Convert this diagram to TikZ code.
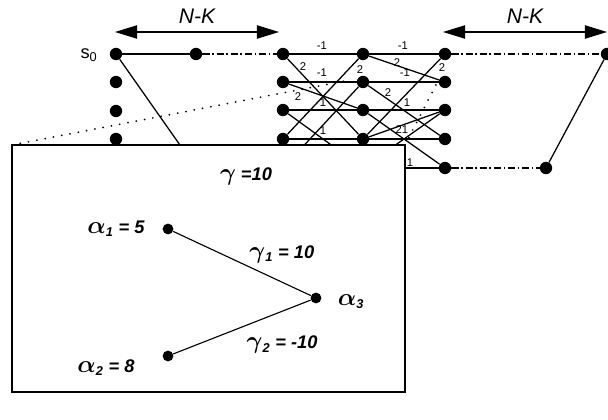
\documentclass[tikz,border=0pt]{standalone}
\usepackage{fontspec}
\usepackage{amsmath}
\setmainfont{Liberation Sans}
\usetikzlibrary{arrows.meta, positioning, calc, fit}
\newcommand{\grAlpha}{{\fontsize{17}{17}\selectfont$\boldsymbol{\alpha}$}}
\newcommand{\grGamma}{{\fontsize{16}{16}\selectfont$\boldsymbol{\gamma}$}}

\begin{document}
\begin{tikzpicture}[x=0.025cm, y=-0.025cm,
  dot/.style={circle, fill=black, inner sep=0pt, minimum size=0.31cm},
  branch/.style={draw, line width=0.9pt},
  dashdot/.style={draw, line width=0.8pt, dash pattern=on 5pt off 2pt on 1pt off 2pt},
  zoomline/.style={draw, line width=1.4pt, line cap=round, dash pattern=on 0pt off 6pt},
  blab/.style={font=\fontsize{8}{8}\selectfont, inner sep=0pt},
  biglab/.style={font=\fontsize{13}{13}\selectfont\bfseries\itshape, inner sep=0pt},
  span/.style={{Triangle[length=0.55cm, width=0.33cm]}-{Triangle[length=0.55cm, width=0.33cm]}, line width=1pt}
]
\useasboundingbox (0,0) rectangle (608,420);

% first column and s0
\foreach \r/\y in {1/54,2/82,3/111,4/139}
  \node[dot] (l\r) at (116,\y) {};
\node[font=\fontsize{13}{13}\selectfont] (s0) at (89,55) {s\textsubscript{0}};
\node[dot] (m) at (196,54) {};
\coordinate (lcut) at (194,165);
\draw[branch] (l1) -- (m);
\draw[dashdot] (m) -- (283,54);
\draw[branch] (l1) -- (lcut);

% trellis
\foreach \c/\x in {1/283,2/363,3/445}
  \foreach \r/\y in {1/54,2/82,3/110,4/139,5/168}
    \node[dot] (t\c\r) at (\x,\y) {};
\foreach \r in {1,...,5} {
  \draw[branch] (t1\r) -- (t2\r);
  \draw[branch] (t2\r) -- (t3\r);
}
\foreach \a/\b in {1/4,2/3,3/5,4/1,5/2}
  \draw[branch] (t1\a) -- (t2\b);
\foreach \a/\b in {1/2,2/4,3/5,4/1,4/3,5/3}
  \draw[branch] (t2\a) -- (t3\b);

% branch labels
\foreach \p/\t in {{(322,46)}/-1, {(403,46)}/-1, {(322,73)}/-1, {(405,73)}/-1,
                   {(323,103)}/1, {(407,103)}/1, {(323,131)}/1, {(402,130)}/21,
                   {(303,67)}/2, {(360,70)}/2, {(397,63)}/2, {(442,68)}/2,
                   {(298,97)}/2, {(388,93)}/2, {(410,163)}/1}
  \node[blab] at \p {\t};

% right part
\node[dot] (r1) at (607,54) {};
\node[dot] (r5) at (546,168) {};
\draw[dashdot] (t31) -- (r1);
\draw[dashdot] (t35) -- (r5);
\draw[branch] (r5) -- (r1);

% N-K spans
\coordinate (nka) at (115,32);
\coordinate (nkb) at (279,32);
\coordinate (nkc) at (443,32);
\coordinate (nkd) at (607,32);
\draw[span] (nka) -- (nkb) node[midway, above=2pt, font=\fontsize{15}{15}\selectfont\itshape] {N-K};
\draw[span] (nkc) -- (nkd) node[midway, above=2pt, font=\fontsize{15}{15}\selectfont\itshape] {N-K};

% zoom lines and box
\coordinate (bnw) at (12,145);
\coordinate (bse) at (405,392);
\coordinate (zl) at (350,80);
\coordinate (zr) at (437,83);
\draw[zoomline] (bnw) -- (zl);
\draw[zoomline] (405,145) -- (zr);
\node[fit=(bnw)(bse), inner sep=0pt, draw, fill=white, line width=1.3pt] (box) {};

% small graph in the box
\node[biglab] (gam) at (246,176) {\grGamma{} =10};
\node[dot, minimum size=0.27cm] (al1) at (168,229) {};
\node[dot, minimum size=0.27cm] (al2) at (168,356) {};
\node[dot, minimum size=0.27cm] (al3) at (316,298) {};
\node[biglab] at (116,229) {\grAlpha\textsubscript{1} = 5};
\node[biglab] at (106,368) {\grAlpha\textsubscript{2} = 8};
\node[biglab] at (351,302) {\grAlpha\textsubscript{3}};
\draw[line width=0.8pt] (al1) -- (al3) node[pos=0.55, above right=2pt and 0pt, biglab] {\grGamma\textsubscript{1} = 10};
\draw[line width=0.8pt] (al2) -- (al3) node[pos=0.55, below right=8pt and -2pt, biglab] {\grGamma\textsubscript{2} = -10};

\end{tikzpicture}
\end{document}
